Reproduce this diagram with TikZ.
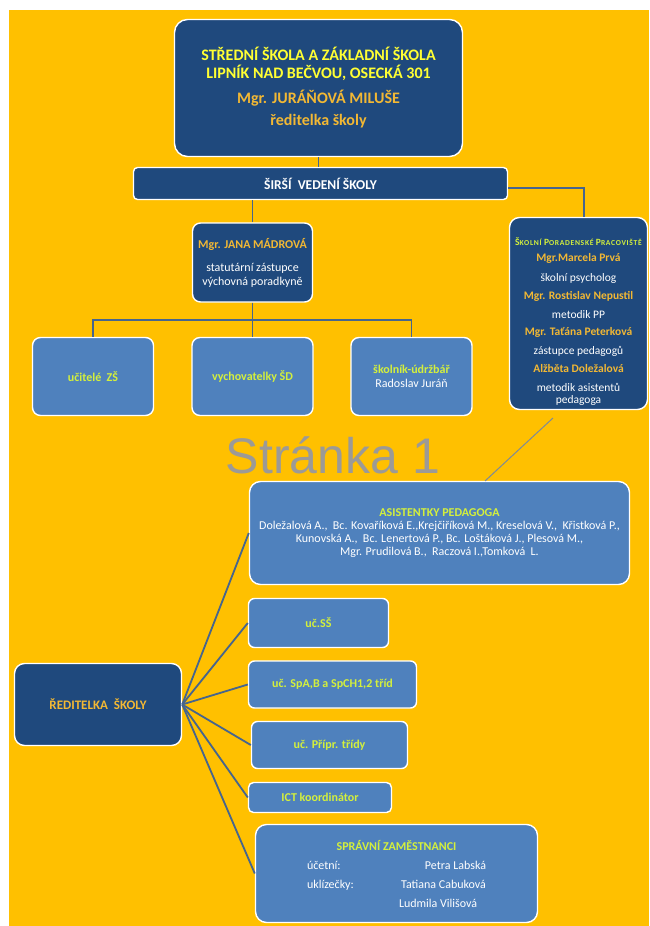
\documentclass[tikz,border=0pt]{standalone}
\usepackage{fontspec}
\setmainfont{Carlito}
\newfontfamily\wmfont{Liberation Sans}
\definecolor{bgor}{HTML}{FFC000}
\definecolor{dblue}{HTML}{1F497D}
\definecolor{lblue}{HTML}{4F81BD}
\definecolor{conncol}{HTML}{46658E}
\definecolor{limet}{HTML}{D4F03C}
\definecolor{yelt}{HTML}{FFFF33}
\definecolor{goldt}{HTML}{F2B834}
\definecolor{wmgray}{HTML}{9C9A96}
\definecolor{thinline}{HTML}{7D8A99}
\newcommand{\fsz}[2]{\fontsize{#1}{#2}\selectfont}
\begin{document}
\begin{tikzpicture}[x=1pt,y=-1pt,
  box/.style={draw=white, line width=1.4pt, rounded corners=8pt, align=center, inner sep=1pt, font=\fsz{12}{14}},
  dbox/.style={box, fill=dblue},
  lbox/.style={box, fill=lblue},
  conn/.style={draw=conncol, line width=1.8pt},
  thin/.style={draw=thinline, line width=1pt}
]
\useasboundingbox (0,0) rectangle (649,926);
\fill[white] (0,0) rectangle (649,926);
\fill[bgor] (9,10) rectangle (649,926);

% top part
\node[dbox, rounded corners=13pt, minimum width=288pt, minimum height=137pt, font=\fsz{16}{18}\bfseries] (top) at (318.5,88)
  {\textcolor{yelt}{STŘEDNÍ ŠKOLA A ZÁKLADNÍ ŠKOLA}\\
   \textcolor{yelt}{LIPNÍK NAD BEČVOU, OSECKÁ 301}\\[7pt]
   \textcolor{goldt}{Mgr. JURÁŇOVÁ MILUŠE}\\[4pt]
   \textcolor{goldt}{ředitelka školy}};
\node[dbox, rounded corners=4pt, minimum width=374pt, minimum height=32pt, font=\fsz{13.5}{16}\bfseries, text=white] (sirsi) at (320.5,183.5) {ŠIRŠÍ\ \ VEDENÍ ŠKOLY};

\node[dbox, minimum width=120pt, minimum height=79pt] (madrova) at (252.5,262.5)
  {\textcolor{goldt}{\bfseries Mgr. JANA MÁDROVÁ}\\[9pt]
   \textcolor{white}{statutární zástupce}\\
   \textcolor{white}{výchovná poradkyně}};

\node[lbox, minimum width=121pt, minimum height=78pt, font=\fsz{12}{14}\bfseries, text=limet] (ucitele) at (93,376.5) {učitelé\ \ ZŠ};
\node[lbox, minimum width=121pt, minimum height=78pt, font=\fsz{12}{14}\bfseries, text=limet] (vych) at (252.5,376.5) {vychovatelky ŠD};
\node[lbox, minimum width=121pt, minimum height=78pt] (skolnik) at (411.5,376.5)
  {\textcolor{limet}{\bfseries školník-údržbář}\\
   \textcolor{white}{Radoslav Juráň}};

\node[dbox, rounded corners=10pt, minimum width=138pt, minimum height=192pt] (spp) at (578.5,313.5) {};
\node[align=center, font=\fsz{11.5}{12}] (spptxt) at (578.5,322)
  {\textcolor{limet}{\bfseries\addfontfeature{LetterSpace=9}\fsz{9.5}{12}Š\fsz{7.6}{12}KOLNÍ \fsz{9.5}{12}P\fsz{7.6}{12}ORADENSKÉ \fsz{9.5}{12}P\fsz{7.6}{12}RACOVIŠTĚ}\\[4pt]
   \textcolor{goldt}{\bfseries Mgr.Marcela Prvá}\\[8pt]
   \textcolor{white}{školní psycholog}\\[6pt]
   \textcolor{goldt}{\bfseries Mgr. Rostislav Nepustil}\\[7pt]
   \textcolor{white}{metodik PP}\\[5pt]
   \textcolor{goldt}{\bfseries Mgr. Taťána Peterková}\\[7pt]
   \textcolor{white}{zástupce pedagogů}\\[6pt]
   \textcolor{goldt}{\bfseries Alžběta Doležalová}\\[7pt]
   \textcolor{white}{metodik asistentů}\\
   \textcolor{white}{pedagoga}};

% watermark
\node[font=\wmfont\fsz{50}{56}, text=wmgray] (wm) at (333,455) {Stránka 1};

% lower part
\node[lbox, rounded corners=11pt, minimum width=380pt, minimum height=103pt, font=\fsz{12}{13}] (asist) at (439.5,533)
  {\textcolor{limet}{\bfseries ASISTENTKY PEDAGOGA}\\
   \textcolor{white}{Doležalová A.,\ \ Bc. Kovaříková E.,Krejčiříková M., Kreselová V.,\ \ Křistková P.,}\\
   \textcolor{white}{Kunovská A.,\ \ Bc. Lenertová P., Bc. Loštáková J., Plesová M.,}\\
   \textcolor{white}{Mgr. Prudilová B.,\ \ Raczová I.,Tomková\ \ L.}};

\node[lbox, rounded corners=6pt, minimum width=140pt, minimum height=49pt, font=\fsz{12}{14}\bfseries, text=limet] (uss) at (318.5,623) {uč.SŠ};
\node[lbox, rounded corners=6pt, minimum width=168pt, minimum height=47pt, font=\fsz{12}{14}\bfseries, text=limet] (spa) at (332.5,684.5) {uč. SpA,B a SpCH1,2 tříd};
\node[lbox, rounded corners=6pt, minimum width=156pt, minimum height=47pt, font=\fsz{12}{14}\bfseries, text=limet] (pripr) at (329.5,745) {uč. Přípr. třídy};
\node[lbox, rounded corners=5pt, minimum width=143pt, minimum height=30pt, font=\fsz{12}{14}\bfseries, text=limet] (ict) at (320,797.5) {ICT koordinátor};
\node[lbox, rounded corners=11pt, minimum width=282pt, minimum height=98pt, font=\fsz{12}{19}] (sprav) at (396.5,873.5)
  {\textcolor{limet}{\bfseries SPRÁVNÍ ZAMĚSTNANCI}\\
   \textcolor{white}{\makebox[179pt]{účetní:\hfill Petra Labská}}\\
   \textcolor{white}{\makebox[179pt]{uklízečky:\hfill Tatiana Cabuková}}\\
   \textcolor{white}{\makebox[179pt][l]{\hspace{92pt}Ludmila Vilišová}}};

\node[dbox, rounded corners=10pt, minimum width=167pt, minimum height=82pt, font=\fsz{13}{15}\bfseries, text=goldt] (boss) at (98,704.5) {ŘEDITELKA\ \ ŠKOLY};

% connectors
\coordinate (bus) at (252.5,320);
\coordinate (sppin) at (584,217);
\draw[conn] (top.south) -- (top.south |- sirsi.north);
\draw[conn] (madrova.north |- sirsi.south) -- (madrova.north);
\draw[conn] ([yshift=-4.5pt]sirsi.east) -| (sppin);
\draw[conn] (madrova.south) -- (vych.north);
\draw[conn] (ucitele.north) |- (bus) -| (skolnik.north);

\draw[conn] (boss.east) -- (asist.west);
\draw[conn] (boss.east) -- (uss.west);
\draw[conn] (boss.east) -- (spa.west);
\draw[conn] (boss.east) -- (pripr.west);
\draw[conn] (boss.east) -- (ict.west);
\draw[conn] (boss.east) -- (sprav.west);

\coordinate (g1) at (553,418);
\coordinate (g2) at (485,481);
\draw[thin] (g1) -- (g2);
\end{tikzpicture}
\end{document}
